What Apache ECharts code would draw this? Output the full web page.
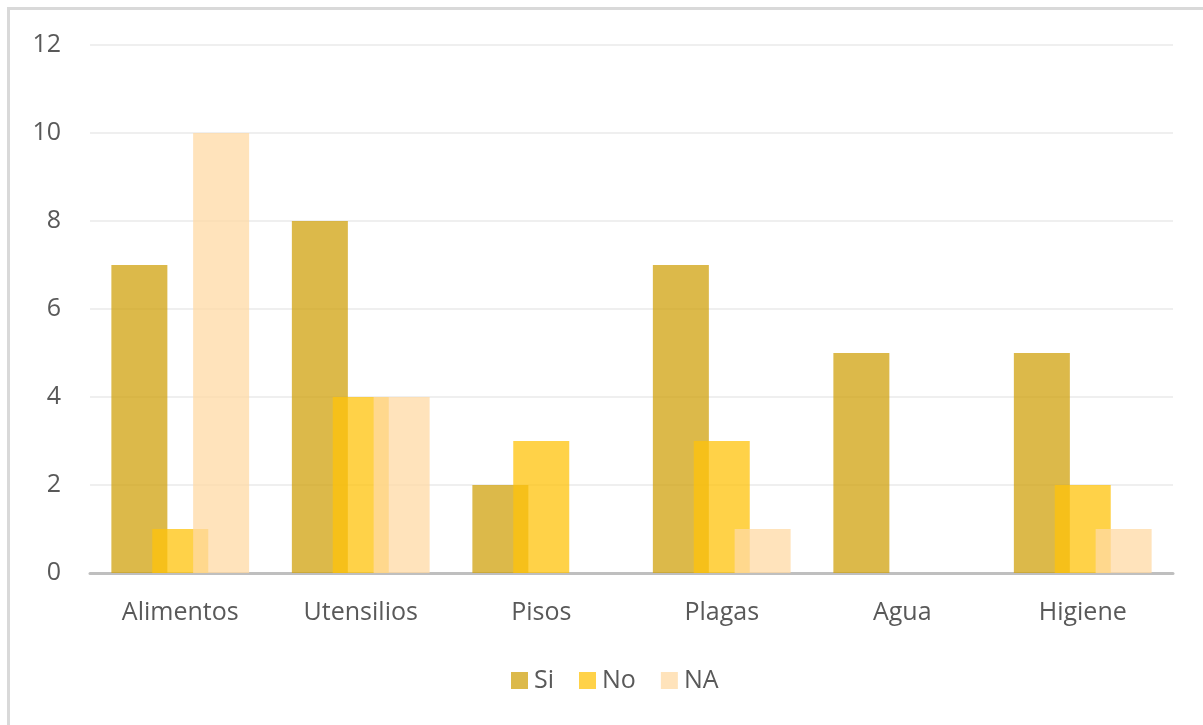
<!DOCTYPE html>
<html>
<head>
<meta charset="utf-8">
<script src="https://cdn.jsdelivr.net/npm/echarts@6/dist/echarts.min.js"></script>
<style>
  html, body { margin: 0; padding: 0; background: #fff; }
  #frame { position: absolute; left: 7px; top: 7px; width: 1220px; height: 740px;
           border-top: 3px solid #d9d9d9; border-left: 3px solid #d9d9d9; }
  #chart { position: absolute; left: 0; top: 0; width: 1203px; height: 725px; }
</style>
</head>
<body>
<div id="frame"></div>
<div id="chart"></div>
<script>
// Inspection results per area
const categories = ['Alimentos', 'Utensilios', 'Pisos', 'Plagas', 'Agua', 'Higiene'];
const siValues = [7, 8, 2, 7, 5, 5];
const noValues = [1, 4, 3, 3, 0, 2];
const naValues = [10, 4, 0, 1, 0, 1];
const seriesNames = ['Si', 'No', 'NA'];

const chart = echarts.init(document.getElementById('chart'));
const font = '"Open Sans", Lato, sans-serif';

function barSeries(name, data, color) {
  return {
    name: name,
    type: 'bar',
    data: data,
    barWidth: 56,
    barGap: '-27%',
    itemStyle: { color: color, opacity: 0.75 },
    emphasis: { disabled: true }
  };
}

chart.setOption({
  animation: false,
  grid: { left: 90, right: 30, top: 45, bottom: 152 },
  legend: {
    data: seriesNames,
    bottom: 32,
    left: 511,
    padding: 0,
    itemWidth: 17,
    itemHeight: 17,
    itemGap: 25,
    icon: 'rect',
    textStyle: { fontSize: 25, color: '#595959', fontFamily: font, padding: [0, 0, 0, 1] }
  },
  xAxis: {
    type: 'category',
    data: categories,
    axisLine: { lineStyle: { color: '#bfbfbf', width: 3 } },
    axisTick: { show: false },
    axisLabel: { fontSize: 25, color: '#595959', fontFamily: font, margin: 27 }
  },
  yAxis: {
    type: 'value',
    min: 0,
    max: 12,
    interval: 2,
    axisLine: { show: false },
    axisTick: { show: false },
    splitLine: { lineStyle: { color: '#efefef', width: 2 } },
    axisLabel: { fontSize: 25, color: '#595959', fontFamily: font, margin: 29 }
  },
  series: [
    barSeries(seriesNames[0], siValues, '#d0a20e'),
    barSeries(seriesNames[1], noValues, '#ffc30b'),
    barSeries(seriesNames[2], naValues, '#ffdaa4')
  ]
});
</script>
</body>
</html>
